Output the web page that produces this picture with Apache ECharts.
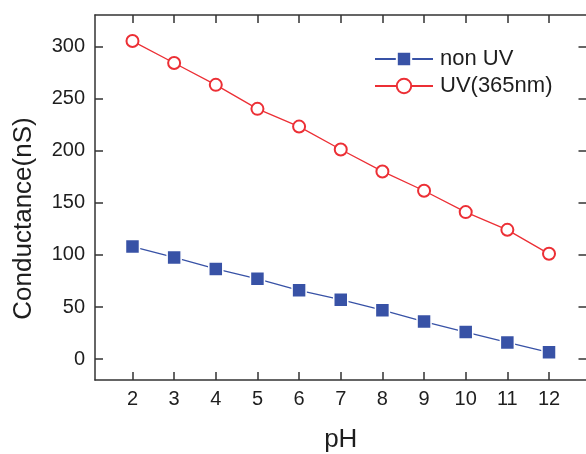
<!DOCTYPE html>
<html>
<head>
<meta charset="utf-8">
<script src="https://cdn.jsdelivr.net/npm/echarts@6/dist/echarts.min.js"></script>
<style>html,body{margin:0;padding:0;background:#fff}#c{width:586px;height:454px}</style>
</head>
<body>
<div id="c"></div>
<script>
const pH = [2, 3, 4, 5, 6, 7, 8, 9, 10, 11, 12];
const nonUV = [108, 97.5, 86.5, 77, 66, 57, 47, 36, 26, 16, 6.5];
const uv365 = [305, 284, 263, 240, 223, 201, 180, 161.5, 141, 124, 101];
const yTicks = [0, 50, 100, 150, 200, 250, 300];
const xTicks = [2, 3, 4, 5, 6, 7, 8, 9, 10, 11, 12];

const axisColor = '#333';
const textColor = '#1e1e1e';
const font = 'Liberation Sans, Arial, sans-serif';
const blue = '#3852A6';
const red = '#EC2F35';

const chart = echarts.init(document.getElementById('c'), null, {renderer: 'canvas'});
const lineAxis = {onZero: false, lineStyle: {color: axisColor, width: 1.5}};
const inTick = (vals) => ({show: true, inside: true, length: 8, customValues: vals, lineStyle: {color: axisColor, width: 1.5}});

chart.setOption({
  animation: false,
  backgroundColor: '#fff',
  grid: {left: 95, top: 15, width: 491.5, height: 365, outerBoundsMode: 'none'},
  legend: {
    left: 374, top: 48, orient: 'vertical', padding: 0,
    itemWidth: 58, itemHeight: 18, itemGap: 5,
    textStyle: {fontFamily: font, fontSize: 22, color: textColor, padding: [0, 0, 0, 2]},
    data: ['non UV', 'UV(365nm)']
  },
  xAxis: [{
    type: 'value', min: 1.1, max: 12.9, position: 'bottom',
    name: 'pH', nameLocation: 'middle', nameGap: 47,
    nameTextStyle: {fontFamily: font, fontSize: 26, color: textColor},
    axisLine: lineAxis, axisTick: inTick(xTicks),
    axisLabel: {customValues: xTicks, fontFamily: font, fontSize: 20, color: textColor, margin: 9},
    splitLine: {show: false}
  }, {
    type: 'value', min: 1.1, max: 12.9, position: 'top',
    axisLine: lineAxis, axisTick: inTick(xTicks),
    axisLabel: {show: false}, splitLine: {show: false}
  }],
  yAxis: [{
    type: 'value', min: -20, max: 330, position: 'left',
    name: 'Conductance(nS)', nameLocation: 'middle', nameGap: 58,
    nameTextStyle: {fontFamily: font, fontSize: 26, color: textColor, padding: [0, 42, 0, 0]},
    axisLine: lineAxis, axisTick: inTick(yTicks),
    axisLabel: {customValues: yTicks, fontFamily: font, fontSize: 20, color: textColor, margin: 10},
    splitLine: {show: false}
  }, {
    type: 'value', min: -20, max: 330, position: 'right',
    axisLine: lineAxis, axisTick: inTick(yTicks),
    axisLabel: {show: false}, splitLine: {show: false}
  }],
  series: [{
    name: 'non UV', type: 'line',
    data: pH.map((x, i) => [x, nonUV[i]]),
    symbol: 'rect', symbolSize: 14,
    itemStyle: {color: blue, borderColor: '#fff', borderWidth: 1.5},
    lineStyle: {color: blue, width: 1.3}
  }, {
    name: 'UV(365nm)', type: 'line',
    data: pH.map((x, i) => [x, uv365[i]]),
    symbol: 'emptyCircle', symbolSize: 12,
    itemStyle: {color: red, borderColor: red, borderWidth: 1.3},
    lineStyle: {color: red, width: 1.3}
  }]
});
</script>
</body>
</html>
